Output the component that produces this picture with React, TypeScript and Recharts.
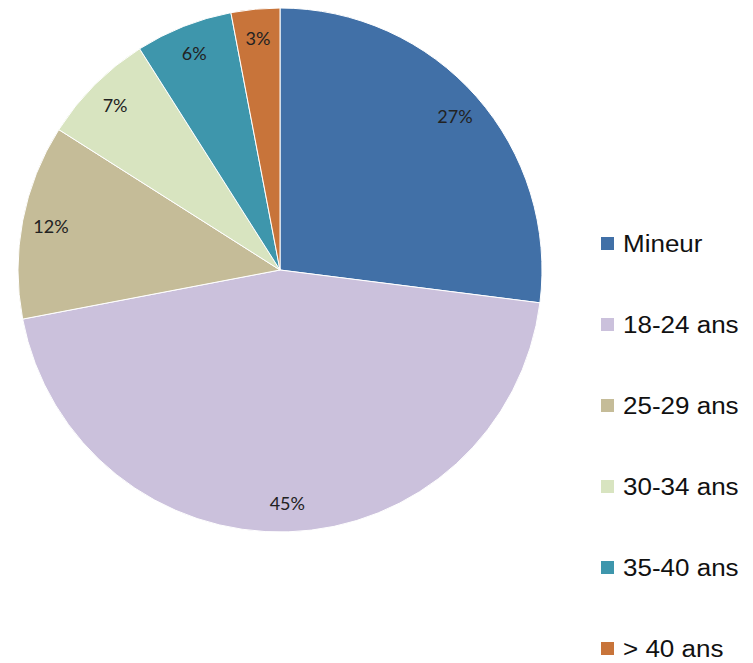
import { PieChart, Pie, Cell, Legend } from 'recharts'

const categories = ['Mineur', '18-24 ans', '25-29 ans', '30-34 ans', '35-40 ans', '> 40 ans']
const shares = [27, 45, 12, 7, 6, 3]
const colors = ['#4170a7', '#cbc1dc', '#c5bc98', '#d8e4c0', '#3e96ac', '#c8743a']

const data = categories.map((name, i) => ({ name, value: shares[i] }))

const RAD = Math.PI / 180

function renderLabel(props: any) {
  const { cx, cy, midAngle, outerRadius, value, index } = props
  const r = outerRadius * 0.89
  const x = cx + r * Math.cos(-midAngle * RAD)
  const y = cy + r * Math.sin(-midAngle * RAD)
  return (
    <text
      key={index}
      x={x}
      y={y}
      fill="#222"
      textAnchor="middle"
      dominantBaseline="central"
      fontFamily="Lato, 'Open Sans', sans-serif"
      fontSize={18}
    >
      {value}%
    </text>
  )
}

function LegendBox() {
  return (
    <div style={{ fontFamily: "'Liberation Sans', Arial, sans-serif", fontSize: 23, color: '#111' }}>
      {data.map((d, i) => (
        <div
          key={d.name}
          style={{ display: 'flex', alignItems: 'center', height: 81, lineHeight: '24px' }}
        >
          <span
            style={{
              display: 'inline-block',
              width: 13,
              height: 13,
              background: colors[i],
              marginRight: 9,
              flexShrink: 0,
            }}
          />
          <span style={{ display: 'inline-block', transform: 'scaleX(1.13)', transformOrigin: 'left center', whiteSpace: 'nowrap' }}>
            {d.name}
          </span>
        </div>
      ))}
    </div>
  )
}

export default function App() {
  return (
    <div style={{ position: 'absolute', left: 0, top: 0, width: 753, height: 663, background: '#fff', overflow: 'hidden' }}>
      <PieChart width={753} height={663} margin={{ top: 0, right: 0, bottom: 0, left: 0 }}>
        <Pie
          data={data}
          dataKey="value"
          nameKey="name"
          cx={280}
          cy={270}
          outerRadius={262}
          startAngle={90}
          endAngle={-270}
          stroke="#fff"
          strokeWidth={1}
          label={renderLabel}
          labelLine={false}
          isAnimationActive={false}
        >
          {data.map((d, i) => (
            <Cell key={d.name} fill={colors[i]} />
          ))}
        </Pie>
        <Legend
          layout="vertical"
          align="right"
          verticalAlign="top"
          wrapperStyle={{ left: 601, top: 203, width: 152 }}
          content={() => <LegendBox />}
        />
      </PieChart>
    </div>
  )
}
